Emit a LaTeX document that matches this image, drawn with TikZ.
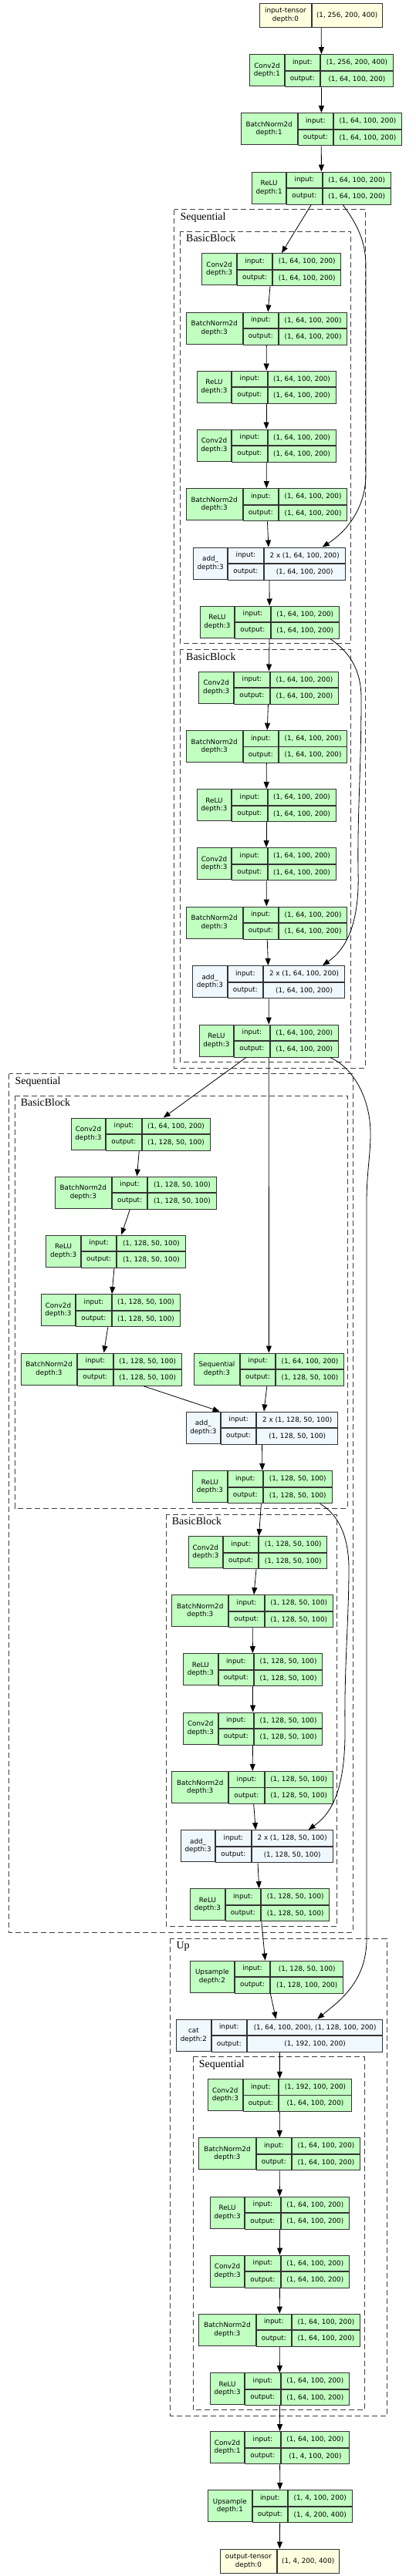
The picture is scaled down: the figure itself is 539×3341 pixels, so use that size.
\documentclass[tikz,border=0pt]{standalone}
\usepackage{fontspec}
\setmainfont{Liberation Serif}
\newfontfamily\dejavu{DejaVu Sans}
\usetikzlibrary{fit, arrows.meta}

\definecolor{modgreen}{HTML}{C1FFC1}
\definecolor{fnblue}{HTML}{F0F8FF}
\definecolor{tensoryellow}{HTML}{FFFFE0}

\newcommand{\nodefont}{\dejavu\fontsize{8.8}{10.5}\selectfont}
\newcommand{\clusterfont}{\fontsize{14}{16}\selectfont}

% record: label | input:/output: | shapes
\newcommand{\tvlayer}[9][modbox]{%
  \node[tvcell, #1, minimum width=#4bp, minimum height=41bp, anchor=north west] (#2-l) at (#3,#6) {#7};
  \node[tvcell, #1, minimum width=45.5bp, minimum height=20.5bp, anchor=north west] (#2-i) at (#2-l.north east) {input:};
  \node[tvcell, #1, minimum width=45.5bp, minimum height=20.5bp, anchor=north west] (#2-o) at (#2-i.south west) {output:};
  \node[tvcell, #1, minimum width=#5bp, minimum height=20.5bp, anchor=north west] (#2-vi) at (#2-i.north east) {#8};
  \node[tvcell, #1, minimum width=#5bp, minimum height=20.5bp, anchor=north west] (#2-vo) at (#2-o.north east) {#9};
  \node[fit=(#2-l)(#2-vo), inner sep=0pt] (#2) {};
}
\newcommand{\tvtensor}[7]{%
  \node[tvcell, tensorbox, minimum width=#3bp, minimum height=31.3bp, anchor=north west] (#1-l) at (#2,#5) {#6};
  \node[tvcell, tensorbox, minimum width=#4bp, minimum height=31.3bp, anchor=north west] (#1-v) at (#1-l.north east) {#7};
  \node[fit=(#1-l)(#1-v), inner sep=0pt] (#1) {};
}
\newcommand{\tvcluster}[6]{%
  \draw[clusterbox] (#2,#3) rectangle (#4,#5);
  \node[clusterlabel, anchor=base west] (#1) at ({#2+7.7},{#3+13.6}) {#6};
}

\begin{document}
\begin{tikzpicture}[x=1bp, y=-1bp]
  \tikzstyle{tvcell} = [draw=black!80, line width=0.9bp, inner sep=1bp, align=center, font=\nodefont]
  \tikzstyle{modbox} = [fill=modgreen]
  \tikzstyle{fnbox} = [fill=fnblue]
  \tikzstyle{tensorbox} = [fill=tensoryellow]
  \tikzstyle{link} = [draw=black, line width=0.8bp, -{Triangle[length=9bp, width=7bp]}]
  \tikzstyle{clusterbox} = [draw=black!75, line width=0.8bp, dash pattern=on 7bp off 4bp]
  \tikzstyle{clusterlabel} = [font=\clusterfont, inner sep=0pt]

  \path[use as bounding box, fill=white] (0,0) rectangle (539,3341);

  % Clusters
  \tvcluster{seqA}{225.7}{271.7}{473.7}{1385}{Sequential}
  \tvcluster{bbA}{233.3}{300}{454.7}{834.3}{BasicBlock}
  \tvcluster{bbB}{233.3}{842.7}{454.7}{1377}{BasicBlock}
  \tvcluster{seqB}{11.7}{1392.7}{457.7}{2506}{Sequential}
  \tvcluster{bbC}{19}{1421.3}{450.3}{1956}{BasicBlock}
  \tvcluster{bbD}{215}{1964}{436.7}{2498.3}{BasicBlock}
  \tvcluster{upA}{220.7}{2514.3}{501}{3133.3}{Up}
  \tvcluster{seqC}{250}{2667.7}{472}{3125.7}{Sequential}

  % Stem
  \tvtensor{in0}{336.3}{66.4}{91.3}{3.7}{input-tensor\\depth:0}{(1, 256, 200, 400)}
  \tvlayer{conv0}{323.3}{44.4}{94}{70.3}{Conv2d\\depth:1}{(1, 256, 200, 400)}{(1, 64, 100, 200)}
  \tvlayer{bn0}{311.7}{73}{88}{146.3}{BatchNorm2d\\depth:1}{(1, 64, 100, 200)}{(1, 64, 100, 200)}
  \tvlayer{relu0}{326}{44.3}{88.3}{222.7}{ReLU\\depth:1}{(1, 64, 100, 200)}{(1, 64, 100, 200)}

  % Sequential A: BasicBlock A
  \tvlayer{bAconv1}{261.3}{44.7}{88}{328.3}{Conv2d\\depth:3}{(1, 64, 100, 200)}{(1, 64, 100, 200)}
  \tvlayer{bAbn1}{240.7}{73}{88.3}{404.7}{BatchNorm2d\\depth:3}{(1, 64, 100, 200)}{(1, 64, 100, 200)}
  \tvlayer{bArelu1}{254.7}{44.6}{88}{480.7}{ReLU\\depth:3}{(1, 64, 100, 200)}{(1, 64, 100, 200)}
  \tvlayer{bAconv2}{254.7}{44.6}{88}{556.7}{Conv2d\\depth:3}{(1, 64, 100, 200)}{(1, 64, 100, 200)}
  \tvlayer{bAbn2}{240.7}{73}{88.3}{633.3}{BatchNorm2d\\depth:3}{(1, 64, 100, 200)}{(1, 64, 100, 200)}
  \tvlayer[fnbox]{bAadd}{250}{44.3}{105.3}{709.7}{add\_\\depth:3}{2 x (1, 64, 100, 200)}{(1, 64, 100, 200)}
  \tvlayer{bArelu2}{258.7}{44.6}{88.4}{785.7}{ReLU\\depth:3}{(1, 64, 100, 200)}{(1, 64, 100, 200)}

  % Sequential A: BasicBlock B
  \tvlayer{bBconv1}{257.3}{45}{88.7}{870.7}{Conv2d\\depth:3}{(1, 64, 100, 200)}{(1, 64, 100, 200)}
  \tvlayer{bBbn1}{240.7}{73}{88.3}{947}{BatchNorm2d\\depth:3}{(1, 64, 100, 200)}{(1, 64, 100, 200)}
  \tvlayer{bBrelu1}{254.7}{44.6}{88}{1023.3}{ReLU\\depth:3}{(1, 64, 100, 200)}{(1, 64, 100, 200)}
  \tvlayer{bBconv2}{254.7}{44.6}{88}{1099.3}{Conv2d\\depth:3}{(1, 64, 100, 200)}{(1, 64, 100, 200)}
  \tvlayer{bBbn2}{240.7}{73}{88.3}{1175.7}{BatchNorm2d\\depth:3}{(1, 64, 100, 200)}{(1, 64, 100, 200)}
  \tvlayer[fnbox]{bBadd}{249.3}{44.4}{105.3}{1252.3}{add\_\\depth:3}{2 x (1, 64, 100, 200)}{(1, 64, 100, 200)}
  \tvlayer{bBrelu2}{257.7}{44.6}{88.4}{1328.7}{ReLU\\depth:3}{(1, 64, 100, 200)}{(1, 64, 100, 200)}

  % Sequential B: BasicBlock C
  \tvlayer{bCconv1}{91.7}{44.6}{88}{1449.7}{Conv2d\\depth:3}{(1, 64, 100, 200)}{(1, 128, 50, 100)}
  \tvlayer{bCbn1}{70.7}{73.3}{88.4}{1525.7}{BatchNorm2d\\depth:3}{(1, 128, 50, 100)}{(1, 128, 50, 100)}
  \tvlayer{bCrelu1}{59.3}{44.7}{88.3}{1601.7}{ReLU\\depth:3}{(1, 128, 50, 100)}{(1, 128, 50, 100)}
  \tvlayer{bCconv2}{52.7}{44.6}{88}{1678.3}{Conv2d\\depth:3}{(1, 128, 50, 100)}{(1, 128, 50, 100)}
  \tvlayer{bCbn2}{26.7}{72.6}{88.3}{1754.7}{BatchNorm2d\\depth:3}{(1, 128, 50, 100)}{(1, 128, 50, 100)}
  \tvlayer{bCdown}{251}{59}{87.6}{1754.7}{Sequential\\depth:3}{(1, 64, 100, 200)}{(1, 128, 50, 100)}
  \tvlayer[fnbox]{bCadd}{240.7}{44.3}{105}{1830.7}{add\_\\depth:3}{2 x (1, 128, 50, 100)}{(1, 128, 50, 100)}
  \tvlayer{bCrelu2}{249.3}{44.4}{88.7}{1907.3}{ReLU\\depth:3}{(1, 128, 50, 100)}{(1, 128, 50, 100)}

  % Sequential B: BasicBlock D
  \tvlayer{bDconv1}{243.7}{44.3}{88}{1992.3}{Conv2d\\depth:3}{(1, 128, 50, 100)}{(1, 128, 50, 100)}
  \tvlayer{bDbn1}{222.3}{73}{88.3}{2068.3}{BatchNorm2d\\depth:3}{(1, 128, 50, 100)}{(1, 128, 50, 100)}
  \tvlayer{bDrelu1}{237}{44.7}{88.3}{2144.3}{ReLU\\depth:3}{(1, 128, 50, 100)}{(1, 128, 50, 100)}
  \tvlayer{bDconv2}{237}{44.7}{88.3}{2220.7}{Conv2d\\depth:3}{(1, 128, 50, 100)}{(1, 128, 50, 100)}
  \tvlayer{bDbn2}{222.3}{73}{88.3}{2297}{BatchNorm2d\\depth:3}{(1, 128, 50, 100)}{(1, 128, 50, 100)}
  \tvlayer[fnbox]{bDadd}{234}{44.3}{105.3}{2373.3}{add\_\\depth:3}{2 x (1, 128, 50, 100)}{(1, 128, 50, 100)}
  \tvlayer{bDrelu2}{246.3}{44.4}{88.4}{2449.3}{ReLU\\depth:3}{(1, 128, 50, 100)}{(1, 128, 50, 100)}

  % Up
  \tvlayer{up0}{246}{57}{94}{2542.7}{Upsample\\depth:2}{(1, 128, 50, 100)}{(1, 128, 100, 200)}
  \tvlayer[fnbox]{cat0}{228.3}{44.4}{175.4}{2618.7}{cat\\depth:2}{(1, 64, 100, 200), (1, 128, 100, 200)}{(1, 192, 100, 200)}
  \tvlayer{uconv1}{269}{44.7}{94}{2696}{Conv2d\\depth:3}{(1, 192, 100, 200)}{(1, 64, 100, 200)}
  \tvlayer{ubn1}{257.3}{73.4}{88}{2772.3}{BatchNorm2d\\depth:3}{(1, 64, 100, 200)}{(1, 64, 100, 200)}
  \tvlayer{urelu1}{272}{44.3}{88.6}{2848.7}{ReLU\\depth:3}{(1, 64, 100, 200)}{(1, 64, 100, 200)}
  \tvlayer{uconv2}{272}{44.3}{88.6}{2924.7}{Conv2d\\depth:3}{(1, 64, 100, 200)}{(1, 64, 100, 200)}
  \tvlayer{ubn2}{257.3}{73.4}{88}{3000.7}{BatchNorm2d\\depth:3}{(1, 64, 100, 200)}{(1, 64, 100, 200)}
  \tvlayer{urelu2}{272}{44.3}{88.6}{3077.3}{ReLU\\depth:3}{(1, 64, 100, 200)}{(1, 64, 100, 200)}

  % Head
  \tvlayer{convout}{272}{44.3}{88.6}{3153.3}{Conv2d\\depth:1}{(1, 64, 100, 200)}{(1, 4, 100, 200)}
  \tvlayer{upout}{269}{56.7}{82.7}{3229.3}{Upsample\\depth:1}{(1, 4, 100, 200)}{(1, 4, 200, 400)}
  \tvtensor{out0}{285}{73}{79.7}{3305.7}{output-tensor\\depth:0}{(1, 4, 200, 400)}

  % Arrows
  \draw [link] (in0) -- (conv0);
  \draw [link] (conv0) -- (bn0);
  \draw [link] (bn0) -- (relu0);
  \draw [link] (relu0) -- (bAconv1);
  \draw [link] (bAconv1) -- (bAbn1);
  \draw [link] (bAbn1) -- (bArelu1);
  \draw [link] (bArelu1) -- (bAconv2);
  \draw [link] (bAconv2) -- (bAbn2);
  \draw [link] (bAbn2) -- (bAadd);
  \draw [link] (bAadd) -- (bArelu2);
  \draw [link] (bArelu2) -- (bBconv1);
  \draw [link] (bBconv1) -- (bBbn1);
  \draw [link] (bBbn1) -- (bBrelu1);
  \draw [link] (bBrelu1) -- (bBconv2);
  \draw [link] (bBconv2) -- (bBbn2);
  \draw [link] (bBbn2) -- (bBadd);
  \draw [link] (bBadd) -- (bBrelu2);
  \draw [link] (bBrelu2) -- (bCconv1);
  \draw [link] (bBrelu2) -- (bCdown);
  \draw [link] (bCconv1) -- (bCbn1);
  \draw [link] (bCbn1) -- (bCrelu1);
  \draw [link] (bCrelu1) -- (bCconv2);
  \draw [link] (bCconv2) -- (bCbn2);
  \draw [link] ([xshift=55]bCbn2.south) -- ([xshift=-55]bCadd.north);
  \draw [link] (bCdown) -- (bCadd);
  \draw [link] (bCadd) -- (bCrelu2);
  \draw [link] (bCrelu2) -- (bDconv1);
  \draw [link] (bDconv1) -- (bDbn1);
  \draw [link] (bDbn1) -- (bDrelu1);
  \draw [link] (bDrelu1) -- (bDconv2);
  \draw [link] (bDconv2) -- (bDbn2);
  \draw [link] (bDbn2) -- (bDadd);
  \draw [link] (bDadd) -- (bDrelu2);
  \draw [link] (bDrelu2) -- (up0);
  \draw [link] (up0) -- (cat0);
  \draw [link] (cat0) -- (uconv1);
  \draw [link] (uconv1) -- (ubn1);
  \draw [link] (ubn1) -- (urelu1);
  \draw [link] (urelu1) -- (uconv2);
  \draw [link] (uconv2) -- (ubn2);
  \draw [link] (ubn2) -- (urelu2);
  \draw [link] (urelu2) -- (convout);
  \draw [link] (convout) -- (upout);
  \draw [link] (upout) -- (out0);

  % Skip connections
  \draw [link] ([xshift=28]relu0.south) .. controls (462,290) and (474,312) .. (474,345)
    -- (474,615) .. controls (474,660) and (448,690) .. ([xshift=69]bAadd.north);
  \draw [link] ([xshift=79]bArelu2.south) .. controls (452,845) and (468,868) .. (468,905)
    .. controls (468,1000) and (463,1050) .. (464,1130)
    .. controls (466,1195) and (450,1230) .. ([xshift=70]bBadd.north);
  \draw [link] ([xshift=80]bBrelu2.south) .. controls (458,1385) and (480,1425) .. (480,1470)
    .. controls (480,1500) and (475,1520) .. (475,1560)
    -- (475,2515) .. controls (475,2570) and (440,2595) .. ([xshift=49]cat0.north);
  \draw [link] ([xshift=75]bCrelu2.south) .. controls (440,1965) and (452,1995) .. (452,2035)
    .. controls (452,2100) and (446,2160) .. (447,2240)
    .. controls (448,2330) and (425,2355) .. ([xshift=67]bDadd.north);

\end{tikzpicture}
\end{document}
